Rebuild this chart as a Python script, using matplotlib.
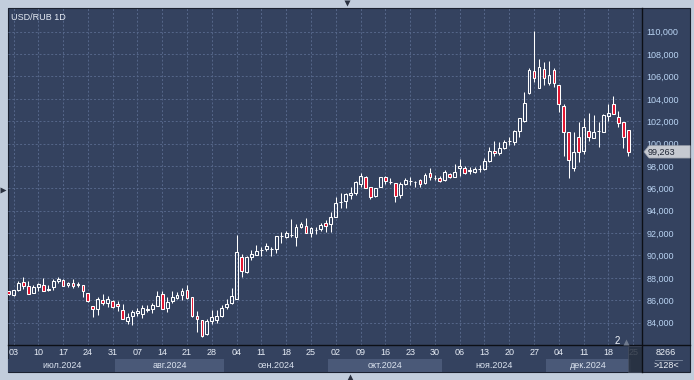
import numpy as np
import pandas as pd
import matplotlib
matplotlib.use('Agg')
import matplotlib.pyplot as plt
import matplotlib.transforms as mtransforms
from matplotlib.patches import Rectangle, Polygon
from matplotlib.colors import LinearSegmentedColormap

plt.rcParams['font.family'] = ['Liberation Sans', 'DejaVu Sans']

# ---- data (daily candles, weekdays from 2 Jul 2024) ----
title = 'USD/RUB 1D'
first_day = '2024-07-02'

opens = [86.80, 86.45, 86.89, 87.60, 87.25, 86.68, 87.16, 87.37, 87.00, 87.16, 87.72, 87.78,
         87.34, 87.54, 87.40, 87.34, 86.62, 85.46, 85.22, 86.00, 85.73, 85.90,
         85.69, 85.12, 84.17, 84.59, 84.89, 84.77, 85.15, 85.24, 85.51, 86.56, 85.33,
         85.93, 86.20, 86.50, 86.88, 86.29, 84.56, 84.23, 83.01, 84.17, 84.26,
         84.59, 85.37, 85.73, 86.08, 89.90, 88.50, 89.84, 90.08, 90.46, 90.55, 90.61,
         90.58, 91.72, 91.63, 91.84, 91.69, 92.52, 92.61, 92.04, 92.28, 92.37,
         92.90, 92.78, 93.40, 94.80, 94.89, 95.37, 95.55, 96.38, 96.98, 96.09, 95.28,
         96.15, 97.01, 96.59, 96.44, 95.37, 96.35, 96.68, 96.53, 96.71, 96.44, 97.34,
         96.96, 96.95, 96.74, 97.25, 97.04, 97.85, 97.79, 97.58, 97.49, 97.72, 97.73,
         98.47, 99.34, 99.19, 99.57, 100.24, 100.11, 101.12, 102.02, 104.49, 106.49,
         105.00, 106.64, 105.39, 106.58, 105.24, 103.36, 101.00, 97.79, 100.56, 99.37,
         101.15, 100.47, 101.11, 101.06, 102.50, 103.54, 102.35, 101.96, 101.18]
highs = [86.85, 86.95, 87.75, 88.08, 87.75, 87.37, 87.57, 87.96, 87.37, 87.90, 88.11, 87.87,
         87.66, 87.87, 87.63, 87.36, 86.62, 85.48, 86.26, 86.56, 86.35, 85.99,
         85.93, 85.66, 84.83, 85.12, 85.33, 85.60, 85.54, 85.72, 86.85, 86.85, 86.32,
         86.82, 86.73, 87.06, 87.36, 86.29, 85.00, 84.23, 84.32, 85.09, 85.09,
         85.58, 86.14, 87.07, 91.87, 90.11, 89.99, 90.49, 90.94, 90.79, 91.09, 90.73,
         91.75, 92.10, 92.22, 93.24, 92.82, 93.03, 93.33, 92.58, 92.58, 92.88,
         93.17, 93.91, 95.25, 95.55, 95.61, 96.09, 96.68, 97.34, 97.13, 96.09, 96.06,
         97.04, 97.13, 96.89, 96.50, 96.53, 96.89, 97.04, 96.68, 96.80, 97.34, 97.79,
         97.19, 97.13, 97.61, 97.34, 98.14, 98.62, 98.02, 97.94, 97.94, 98.08, 98.68,
         99.72, 100.23, 100.11, 100.32, 100.62, 101.21, 102.30, 104.64, 106.79, 110.06,
         107.56, 107.26, 107.38, 106.73, 105.24, 103.54, 101.00, 101.06, 101.96, 102.26,
         102.70, 102.56, 101.96, 102.62, 103.54, 104.28, 102.91, 101.96, 101.18]
lows = [86.50, 86.40, 86.85, 86.98, 86.55, 86.65, 86.86, 86.80, 86.86, 86.90, 87.50, 87.28,
        87.22, 87.07, 87.16, 86.26, 85.80, 84.54, 84.69, 85.58, 85.43, 85.31,
        85.07, 84.30, 83.87, 83.78, 84.62, 84.38, 84.95, 84.89, 85.45, 85.20, 84.92,
        85.78, 86.08, 86.02, 86.11, 84.53, 83.19, 82.74, 82.89, 83.84, 83.93,
        84.48, 85.25, 85.64, 86.08, 88.11, 88.41, 89.57, 90.05, 89.99, 90.37, 89.96,
        90.26, 91.09, 91.54, 91.63, 90.85, 92.43, 92.04, 91.69, 91.93, 92.22,
        92.12, 92.12, 93.40, 94.21, 94.21, 95.07, 95.43, 96.15, 96.00, 95.01, 95.19,
        96.09, 96.38, 96.38, 94.81, 95.10, 96.29, 96.29, 96.15, 96.09, 96.38, 96.74,
        96.74, 96.53, 96.65, 96.89, 97.04, 97.13, 97.25, 97.25, 97.34, 97.49, 97.64,
        98.38, 98.92, 98.98, 99.52, 99.87, 99.87, 100.62, 101.96, 104.40, 105.53,
        105.00, 105.24, 105.24, 105.09, 102.85, 98.92, 96.95, 97.58, 98.32, 99.07,
        100.26, 100.47, 99.72, 101.06, 102.05, 102.62, 101.51, 99.63, 98.92]
closes = [86.56, 86.89, 87.57, 87.25, 86.59, 87.19, 87.43, 86.86, 86.96, 87.72, 87.87, 87.31,
          87.57, 87.25, 87.41, 86.80, 85.91, 85.22, 86.08, 85.73, 86.08, 85.40,
          85.48, 84.35, 84.50, 84.92, 85.07, 85.27, 85.18, 85.57, 86.41, 85.24, 85.87,
          86.26, 86.47, 86.85, 86.17, 84.62, 84.35, 82.80, 84.17, 84.50, 84.59,
          85.28, 85.70, 86.38, 90.29, 88.62, 89.87, 90.11, 90.43, 90.47, 90.85, 90.62,
          91.72, 91.73, 91.98, 91.85, 92.58, 92.79, 92.04, 92.43, 92.30, 92.73,
          92.60, 93.43, 94.71, 94.82, 95.49, 95.58, 96.53, 97.13, 96.06, 95.19, 96.03,
          96.98, 96.62, 96.60, 95.31, 96.35, 96.74, 96.70, 96.54, 96.35, 97.19, 96.98,
          96.95, 96.68, 97.49, 97.04, 97.49, 98.02, 97.40, 97.60, 97.73, 97.74, 98.44,
          99.34, 99.16, 99.57, 100.17, 100.26, 101.12, 102.26, 103.60, 106.58, 105.83,
          106.88, 105.83, 106.13, 105.39, 103.51, 101.06, 98.50, 99.28, 99.28, 101.45,
          100.56, 101.00, 101.13, 102.56, 102.73, 102.62, 101.81, 100.56, 99.263]

y_ticks = [84, 86, 88, 90, 92, 94, 96, 98, 100, 102, 104, 106, 108, 110]
month_names = ['июл.2024', 'авг.2024', 'сен.2024', 'окт.2024', 'ноя.2024', 'дек.2024']
footer_top = '8266'
footer_bottom = '>128<'
event_text = '2'

# ---- layout (pixels) ----
W, H = 694, 380
PL, PR, PT, PB = 8, 642, 8, 345
RIGHT = 690
BOTTOM = 372


def frac(x0, y0, x1, y1):
    return [x0 / W, 1 - y1 / H, (x1 - x0) / W, (y1 - y0) / H]


up_edge = 'white'
red = '#e3132e'
grid_c = '#56678a'
ylo, yhi = 82.0, 112.12

fig = plt.figure(figsize=(W / 100, H / 100), dpi=100, facecolor='#c2cddc')

# background panels
bg = fig.add_axes([0, 0, 1, 1], zorder=0)
bg.set_xlim(0, W)
bg.set_ylim(H, 0)
bg.axis('off')
bg.add_patch(Rectangle((PL, PT), RIGHT - PL, BOTTOM - PT, fc='#34425f', ec='#1b2130', lw=0.8))
cmap = LinearSegmentedColormap.from_list('bgc', ['#3f4c69', '#2d3957'])
grad = np.linspace(0, 1, 200).reshape(-1, 1)
bg.imshow(grad, cmap=cmap, extent=[PL, RIGHT, PB, PT], aspect='auto', interpolation='bilinear')
bg.set_xlim(0, W)
bg.set_ylim(H, 0)

# main chart
ax = fig.add_axes(frac(PL, PT, PR, PB), zorder=1)
ax.patch.set_alpha(0)
n = len(opens)
days = pd.bdate_range(first_day, periods=n + 3)
x = np.arange(n)

bw = 0.56
wx, wlo, whi = [], [], []
for i, (o, h, l, c) in enumerate(zip(opens, highs, lows, closes)):
    top, bot = max(o, c), min(o, c)
    fc = red if c < o else 'none'
    ax.add_patch(Rectangle((i - bw / 2, bot), bw, top - bot, fc=fc, ec=up_edge,
                           lw=0.75, zorder=3))
    wx += [i, i]
    wlo += [top, l]
    whi += [h, bot]
ax.vlines(wx, wlo, whi, color='white', lw=0.75, zorder=2)

ax.set_xlim(-0.11, 127.77)
ax.set_ylim(ylo, yhi)
for s in ax.spines.values():
    s.set_visible(False)

# weekly ticks on Wednesdays
wed = [i for i, d in enumerate(days) if d.weekday() == 2]
ax.set_xticks(wed)
ax.set_xticklabels([days[i].strftime('%d') for i in wed])
ax.tick_params(axis='x', length=0, pad=2.5, labelcolor='#e6ecf5', labelsize=6.5)

ax.yaxis.tick_right()
ax.set_yticks(y_ticks)
ax.set_yticklabels([f'{v:.3f}'.replace('.', ',') for v in y_ticks])
ax.tick_params(axis='y', length=0, pad=3, labelcolor='#b9d3f2', labelsize=6.5)

ax.grid(True, color=grid_c, lw=0.7, linestyle=(0, (2, 2)))
ax.set_axisbelow(True)

ax.text(0.004, 0.984, title, transform=ax.transAxes, ha='left', va='top',
        fontsize=6.5, color='#e6ecf5')

# month bands under the dates
tr = mtransforms.blended_transform_factory(ax.transData, ax.transAxes)
data_days = days[:n]
xmin, xmax = ax.get_xlim()
for k, name in enumerate(month_names):
    idx = np.where(data_days.month == (7 + k))[0]
    a = max(idx[0] - 0.5, xmin)
    b = idx[-1] + 0.5
    col = '#4a5978' if k % 2 == 1 else '#34425f'
    ax.add_patch(Rectangle((a, -0.0801), b - a, 0.0386, transform=tr, fc=col, ec='none',
                           clip_on=False, zorder=0))
    ax.text((a + b) / 2, -0.061, name, transform=tr, ha='center', va='center',
            fontsize=6.5, color='#dbe3ef', clip_on=False)

# last price label
last = closes[-1]
trp = mtransforms.blended_transform_factory(ax.transAxes, ax.transData)
hh = 6.2 / (337 / (yhi - ylo))
ax.add_patch(Polygon([(1.003, last), (1.011, last + hh), (1.076, last + hh),
                      (1.076, last - hh), (1.011, last - hh)], closed=True,
                     transform=trp, fc='#c5c9d1', ec='#9aa0aa', lw=0.5,
                     clip_on=False, zorder=10))
ax.text(1.0085, last, f'{last:.3f}'.replace('.', ','), transform=trp, ha='left',
        va='center', fontsize=6.5, color='#1d2433', clip_on=False, zorder=11)

# overlay: separators, footer, ui marks
ov = fig.add_axes([0, 0, 1, 1], zorder=3)
ov.set_xlim(0, W)
ov.set_ylim(H, 0)
ov.axis('off')
ov.plot([PR, PR], [PT, BOTTOM], color='#0c0f16', lw=1.0)
ov.plot([PL, RIGHT], [PB, PB], color='#0c0f16', lw=1.0)
ov.add_patch(Rectangle((628, 346), 14, 26, fc='#27303f', ec='#4b5466', lw=0.5, alpha=0.85))
ov.text(666, 352.5, footer_top, ha='center', va='center', fontsize=6.5, color='#eef2f8')
ov.plot([655, 682], [359.5, 359.5], color='#7e8aa0', lw=0.6)
ov.text(666, 365.5, footer_bottom, ha='center', va='center', fontsize=6.5, color='#eef2f8')
ov.text(617, 341, event_text, ha='center', va='center', fontsize=7, color='#f0f4fa')
ov.plot([626], [342], marker='^', ms=4, color='#6f7a8e', mec='none')
ov.plot([347], [3], marker='v', ms=5, color='#2a3140', mec='none')
ov.plot([3], [190], marker='>', ms=5, color='#2a3140', mec='none')
ov.plot([350], [377], marker='^', ms=5, color='#2a3140', mec='none')

fig.savefig('out.png', dpi=100, facecolor=fig.get_facecolor())
